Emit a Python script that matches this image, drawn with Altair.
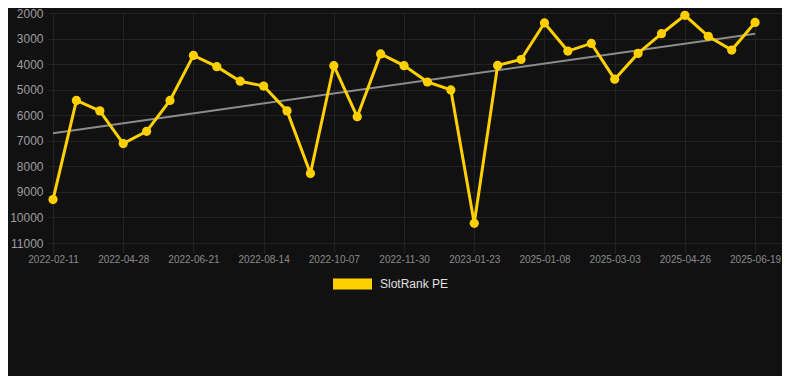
import altair as alt
import pandas as pd

# Data
values = [9300, 5420, 5830, 7110, 6630, 5420, 3660, 4100, 4670, 4860,
          5830, 8280, 4060, 6060, 3600, 4060, 4700, 5010, 10230, 4050,
          3820, 2390, 3490, 3190, 4590, 3580, 2810, 2090, 2910, 3450, 2370]
tick_labels = ["2022-02-11", "2022-04-28", "2022-06-21", "2022-08-14",
               "2022-10-07", "2022-11-30", "2023-01-23", "2025-01-08",
               "2025-03-03", "2025-04-26", "2025-06-19"]
y_ticks = [2000, 3000, 4000, 5000, 6000, 7000, 8000, 9000, 10000, 11000]
series_name = "SlotRank PE"

GOLD = "#FFD000"
BG = "#111111"
GRID = "#232323"
FONT = "Liberation Sans"

df = pd.DataFrame({
    "idx": list(range(len(values))),
    "value": values,
    "series": [series_name] * len(values),
})

label_expr = "[" + ",".join("'%s'" % t for t in tick_labels) + "][round(datum.value/3)]"

x_enc = alt.X(
    "idx:Q",
    scale=alt.Scale(domain=[-0.214, 31.15], nice=False, zero=False),
    axis=alt.Axis(
        values=list(range(0, len(values), 3)),
        labelExpr=label_expr,
        title=None,
        grid=True,
        gridColor=GRID,
        domain=False,
        ticks=True,
        tickColor=GRID,
        tickSize=10,
        labelPadding=1,
        labelColor="#8a8a8a",
        labelFontSize=10,
        labelFont=FONT,
        labelFlush=False,
    ),
)
y_enc = alt.Y(
    "value:Q",
    scale=alt.Scale(domain=[2000, 11000], reverse=True, nice=False, zero=False),
    axis=alt.Axis(
        values=y_ticks,
        format="d",
        title=None,
        grid=True,
        gridColor=GRID,
        domain=False,
        ticks=False,
        labelPadding=5,
        labelColor="#9e9e9e",
        labelFontSize=12,
        labelFont=FONT,
    ),
)

base = alt.Chart(df)

trend = base.transform_regression("idx", "value").mark_line(
    color="#8c8c8c", strokeWidth=2
).encode(x=x_enc, y=y_enc)

line = base.mark_line(color=GOLD, strokeWidth=3).encode(x=x_enc, y=y_enc)

points = base.mark_circle(size=85, opacity=1).encode(
    x=x_enc,
    y=y_enc,
    color=alt.Color(
        "series:N",
        scale=alt.Scale(domain=[series_name], range=[GOLD]),
        legend=alt.Legend(
            title=None,
            orient="none",
            legendX=285,
            legendY=251.5,
            padding=0,
            symbolType="M-1,-0.28H1V0.28H-1Z",
            symbolSize=1521,
            symbolStrokeWidth=0,
            symbolOpacity=1,
            labelColor="#e0e0e0",
            labelFontSize=12,
            labelFont=FONT,
            labelOffset=8,
        ),
    ),
)

chart = (
    alt.layer(trend, line, points)
    .properties(
        width=734,
        height=230,
        background=BG,
        padding={"left": 40, "top": 5, "right": 0, "bottom": 133},
        autosize=alt.AutoSizeParams(type="none"),
    )
    .configure_view(stroke=None)
)

chart.save("out.html", embed_options={"renderer": "svg", "actions": False})
